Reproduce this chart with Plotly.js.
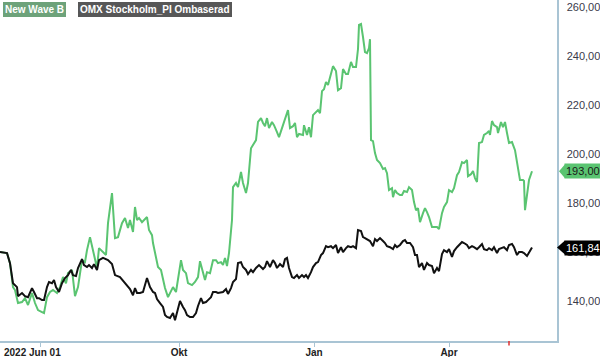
<!DOCTYPE html>
<html>
<head>
<meta charset="utf-8">
<script src="https://cdn.plot.ly/plotly-3.0.1.min.js"></script>
<style>html,body{margin:0;padding:0;background:#fff;}#chart{width:600px;height:357px;}</style>
</head>
<body>
<div id="chart"></div>
<script>
// Trading-session position (chart time units) and values
var tickPos = [40, 179, 314, 449];
var tickLabels = ["2022 Jun 01", "Okt", "Jan", "Apr"];
var markerPos = 509;

var seriesNames = ["New Wave B", "OMX Stockholm_PI Ombaserad"];

var tGreen = [0,7,10,13,15,18,22,25,28,32,
35,38,42,44,47,50,53,57,60,63,
66,68,72,75,78,82,85,87,90,93,
97,99,103,106,108,112,115,118,122,125,
128,130,133,135,137,139,142,144,147,149,
152,153,156,158,161,163,165,168,171,173,
176,178,181,183,186,188,192,195,198,200,
203,205,207,210,213,216,218,221,223,225,
227,229,232,233,236,238,241,243,246,248,
251,253,256,258,261,263,265,267,269,272,
274,277,279,282,284,287,288,290,293,295,
297,299,303,304,307,309,311,313,316,318,
320,322,324,326,328,331,333,336,338,341,
343,346,348,351,353,356,358,359,361,363,
365,367,369,370,371,373,375,377,380,383,
385,387,389,392,393,395,397,400,402,404,
407,409,412,414,416,418,420,423,425,427,
429,432,434,437,439,442,444,447,449,452,
454,457,459,462,464,467,468,471,473,475,
477,479,482,484,487,489,490,492,494,497,
498,501,503,505,507,509,512,515,517,520,
523,524,525,527,529,532];

var newWaveB = [160.0,159.6,155.5,145.7,144.5,139.2,139.6,141.2,138.4,143.3,
139.2,136.3,135.5,135.1,141.6,143.7,144.5,143.3,145.7,149.8,
147.3,151.4,152.7,142.0,145.7,156.7,155.9,160.8,166.1,160.8,
153.5,161.6,160.0,158.8,171.8,184.1,165.7,166.1,171.8,173.9,
169.8,173.1,168.2,178.4,173.1,173.9,172.2,173.1,174.3,169.0,
166.9,163.7,158.0,153.9,152.7,148.6,145.3,141.6,143.7,145.7,
143.7,148.6,156.7,152.7,151.4,147.3,146.5,147.8,149.8,156.3,
151.8,148.6,151.8,151.4,156.7,156.7,155.5,155.9,154.7,157.6,
154.3,159.6,173.1,186.5,188.2,186.5,192.7,188.2,184.1,188.2,
202.4,203.7,205.7,213.1,214.7,212.7,211.4,214.7,210.6,213.1,
211.8,209.0,206.9,210.6,213.1,216.7,218.0,210.6,211.4,212.7,
206.9,208.2,207.8,211.8,207.8,211.0,206.9,215.9,217.1,218.0,
216.7,225.7,226.5,229.4,228.2,233.5,235.9,233.9,226.1,226.9,
234.7,232.7,232.7,237.6,235.5,235.5,242.9,252.7,253.1,247.8,
241.6,241.2,243.3,246.9,205.7,205.3,200.4,197.6,196.3,193.9,
194.3,192.2,185.3,186.1,182.4,185.3,184.1,183.3,183.3,184.9,
184.5,186.5,185.3,180.4,177.1,177.9,172.2,175.9,177.9,176.3,
174.3,170.2,170.2,170.2,169.4,175.9,178.4,180.4,185.3,184.5,
186.1,191.4,192.7,196.7,196.3,197.6,191.0,191.8,193.1,190.2,
188.6,204.5,204.9,207.8,208.6,209.4,207.8,213.5,211.8,211.0,
208.6,213.1,211.0,213.1,208.6,204.5,204.9,201.6,196.7,189.4,
189.4,189.0,177.1,182.4,189.4,193.0];

var tOmx = [0,7,10,13,17,18,22,25,28,32,
34,37,39,42,44,47,49,52,54,56,
59,62,65,68,71,73,76,78,82,84,
87,89,92,94,97,99,103,108,112,115,
120,125,130,133,135,137,140,143,145,147,
150,153,155,157,160,163,165,167,170,173,
175,177,180,183,185,187,190,193,196,198,
201,203,206,208,211,213,216,218,221,223,
226,228,231,233,236,238,241,243,246,248,
251,253,256,259,263,265,267,270,273,275,
277,280,283,285,287,289,292,294,297,299,
302,304,306,308,311,313,316,318,321,323,
326,328,331,333,336,338,341,343,346,348,
351,353,356,358,361,363,365,367,370,373,
375,377,380,383,385,387,390,393,395,397,
400,403,405,407,410,413,415,417,419,422,
424,427,429,432,434,437,439,442,444,447,
449,452,454,457,459,462,464,467,469,472,
474,477,479,482,484,487,489,492,494,497,
499,502,504,507,509,512,514,517,519,522,
524,527,529,532];

var omxPI = [160.0,159.6,155.5,147.3,145.7,142.0,143.3,142.0,141.6,145.3,
143.7,141.2,141.2,140.4,140.4,145.7,147.8,147.3,148.6,145.7,
143.7,147.3,149.4,150.6,152.7,150.6,150.2,153.5,157.1,154.7,
153.9,154.7,153.5,155.1,152.7,156.7,157.6,156.7,155.1,150.6,
149.8,147.3,144.9,142.4,145.3,143.3,143.3,143.7,146.5,149.4,
145.7,143.7,143.3,140.8,139.2,137.6,134.3,133.5,133.1,135.1,
132.2,135.1,140.0,137.6,136.3,134.3,133.5,133.5,135.1,138.0,
141.2,139.2,139.6,140.4,141.6,143.7,143.7,143.3,143.7,143.7,
144.9,142.9,145.3,147.8,149.0,155.5,155.9,153.9,152.7,151.0,
152.7,151.8,153.5,154.7,153.1,153.9,156.3,153.9,156.7,155.5,
153.5,155.1,153.9,157.1,157.6,153.5,149.8,149.4,150.6,149.4,
150.6,149.8,150.6,149.4,151.8,153.9,155.5,155.9,158.8,159.6,
162.4,162.0,162.4,161.6,162.9,159.6,162.0,160.0,161.6,162.4,
162.0,162.4,161.6,169.0,168.6,166.1,165.7,165.3,164.5,162.4,
165.3,164.5,165.7,164.5,163.7,162.4,162.0,161.2,162.9,162.0,
162.9,164.5,164.9,163.7,163.7,162.0,158.8,158.8,153.9,155.5,
152.7,155.5,154.7,154.3,151.4,153.5,152.2,159.2,160.8,160.0,
161.2,158.0,160.4,162.0,162.9,164.1,163.7,162.9,161.6,162.4,
162.0,161.2,162.0,163.3,161.2,160.8,161.6,160.8,162.0,159.6,
161.2,161.6,162.0,160.8,162.9,163.3,162.0,158.8,160.0,160.0,
159.6,158.4,160.0,161.84];

var yTicks = [140, 160, 180, 200, 220, 240, 260];

var GREEN = '#5ac471';
var AXIS = '#a9c4d4';
var FONT = 'Arial, "Liberation Sans", sans-serif';

function fmt(v){ return v.toFixed(2).replace('.', ','); }

var lastG = newWaveB[newWaveB.length-1];
var lastB = omxPI[omxPI.length-1];

var traces = [
  {x: tGreen, y: newWaveB, type: 'scatter', mode: 'lines', name: seriesNames[0],
   line: {color: GREEN, width: 2}, hoverinfo: 'skip'},
  {x: tOmx, y: omxPI, type: 'scatter', mode: 'lines', name: seriesNames[1],
   line: {color: '#111111', width: 2}, hoverinfo: 'skip'}
];

// first tick label is drawn left-aligned (as in the original), others centred
var shownTickText = tickLabels.map(function(s, i){ return i === 0 ? '' : s; });

var layout = {
  width: 600, height: 357,
  margin: {l: 0, r: 43, t: 0, b: 16},
  paper_bgcolor: '#ffffff', plot_bgcolor: '#ffffff',
  showlegend: false,
  separators: ', ',
  font: {family: FONT, size: 11, color: '#333'},
  xaxis: {
    range: [0, 557], showgrid: false, zeroline: false,
    showline: true, linecolor: AXIS, linewidth: 1.5,
    ticks: 'outside', ticklen: 4, tickcolor: AXIS, tickwidth: 1,
    tickmode: 'array', tickvals: tickPos, ticktext: shownTickText,
    tickfont: {family: FONT, size: 10, color: '#222', weight: 'bold'},
    ticklabelstandoff: -3
  },
  yaxis: {
    range: [123.7, 262.9], side: 'right', showgrid: false, zeroline: false,
    showline: true, linecolor: AXIS, linewidth: 1.5,
    ticks: '', tickmode: 'array', tickvals: yTicks,
    tickformat: '.2f', tickfont: {family: FONT, size: 11, color: '#3a3a4a'},
    ticklabelstandoff: 6
  },
  shapes: [
    {type: 'line', xref: 'x', yref: 'paper', x0: markerPos, x1: markerPos,
     y0: -0.013, y1: 0, line: {color: '#e03030', width: 1.5}},
    {type: 'path', xref: 'paper', yref: 'y', xsizemode: 'pixel', ysizemode: 'pixel',
     xanchor: 1, yanchor: lastG, path: 'M 2 0 L 8 7 L 8 -7 Z',
     fillcolor: GREEN, line: {width: 0}},
    {type: 'path', xref: 'paper', yref: 'y', xsizemode: 'pixel', ysizemode: 'pixel',
     xanchor: 1, yanchor: lastB, path: 'M 0 0 L 8 7 L 8 -7 Z',
     fillcolor: '#000000', line: {width: 0}}
  ],
  annotations: [
    {xref: 'paper', yref: 'paper', x: 0, y: 1, xanchor: 'left', yanchor: 'top',
     xshift: 3, yshift: -2, text: seriesNames[0], showarrow: false,
     bgcolor: '#6da27a', bordercolor: 'rgba(0,0,0,0)', borderwidth: 0,
     font: {family: FONT, color: '#ffffff', size: 10, weight: 'bold'}, borderpad: 2},
    {xref: 'paper', yref: 'paper', x: 0, y: 1, xanchor: 'left', yanchor: 'top',
     xshift: 78, yshift: -2, text: seriesNames[1], showarrow: false,
     bgcolor: '#575757', bordercolor: 'rgba(0,0,0,0)', borderwidth: 0,
     font: {family: FONT, color: '#ffffff', size: 10, weight: 'bold'}, borderpad: 2},
    {xref: 'x', yref: 'paper', x: 0, y: 0, xanchor: 'left', yanchor: 'top',
     xshift: 2, yshift: -4, text: tickLabels[0], showarrow: false,
     font: {family: FONT, size: 10, color: '#222', weight: 'bold'}},
    {xref: 'paper', yref: 'y', x: 1, y: lastG, xanchor: 'left', yanchor: 'middle',
     xshift: 7, text: fmt(lastG), showarrow: false,
     bgcolor: GREEN, font: {color: '#1a1a1a', size: 11}, borderpad: 1},
    {xref: 'paper', yref: 'y', x: 1, y: lastB, xanchor: 'left', yanchor: 'middle',
     xshift: 7, text: fmt(lastB), showarrow: false,
     bgcolor: '#000000', font: {color: '#ffffff', size: 11}, borderpad: 1}
  ]
};

Plotly.newPlot('chart', traces, layout, {displayModeBar: false, staticPlot: true});
</script>
</body>
</html>
